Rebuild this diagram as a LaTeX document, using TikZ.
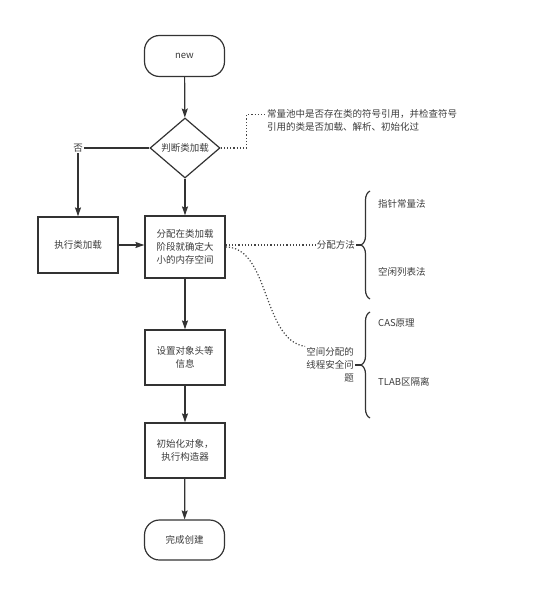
\documentclass[tikz,border=0pt]{standalone}
\usepackage{fontspec}
\newfontfamily\cjk{Noto Sans CJK SC}
\usetikzlibrary{shapes.geometric,arrows.meta,decorations.pathreplacing}

\definecolor{linegray}{HTML}{333333}
\definecolor{textgray}{HTML}{3C3C3C}
\definecolor{notegray}{HTML}{444444}

\tikzset{
  line/.style={draw=linegray, line width=1.2pt},
  flow/.style={line, -{Stealth[length=9pt,width=6pt,inset=1.5pt]}},
  note/.style={draw=notegray, dotted, line width=1.2pt},
  label/.style={text=textgray, inner sep=1pt, font=\cjk\fontsize{9.5}{13}\selectfont},
  box/.style={label, draw=linegray, line width=1.2pt, fill=white, minimum width=80pt, align=center, inner sep=3pt},
  term/.style={box, rounded corners=15pt, minimum height=41pt},
  proc/.style={box, minimum height=56pt},
  judge/.style={box, diamond, aspect=1.17, minimum width=70pt, minimum height=60pt, inner sep=0pt},
  curly/.style={line, decorate, decoration={brace, amplitude=9pt}}
}

\begin{document}
\begin{tikzpicture}[x=1pt,y=-1pt]
\useasboundingbox (0,0) rectangle (554,609);

\node[term] (new) at (184.5,56) {new};
\node[judge] (check) at (185,148) {判断类加载};
\node[label] (no) at (78,148) {否};
\node[proc] (load) at (78,245) {执行类加载};
\node[proc, minimum height=62pt] (alloc) at (185,247) {分配在类加载\\阶段就确定大\\小的内存空间};
\node[proc, minimum height=55pt] (header) at (185,357.5) {设置对象头等\\信息};
\node[proc, minimum height=55pt] (init) at (185,450.5) {初始化对象，\\执行构造器};
\node[term, minimum height=40pt] (done) at (184.5,540) {完成创建};

\node[label, anchor=west, align=left] (rule) at (266,120) {常量池中是否存在类的符号引用，并检查符号\\引用的类是否加载、解析、初始化过};

\node[label, anchor=east] (method) at (356,245) {分配方法};
\node[label, anchor=west] (bump) at (377,204) {指针常量法};
\node[label, anchor=west] (freelist) at (377,272) {空闲列表法};

\node[label, anchor=east, align=right] (tsafe) at (355,365) {空间分配的\\线程安全问\\题};
\node[label, anchor=west] (cas) at (377,323) {CAS原理};
\node[label, anchor=west] (tlab) at (377,382) {TLAB区隔离};

\coordinate (tip1) at (361,245);
\coordinate (tip2) at (361,365);

\draw[flow] (new) -- (check);
\draw[flow] (check) -- (alloc);
\draw[line] (check.west) -- (check.west -| no.east);
\draw[flow] (no.south) -- (load.north);
\draw[flow] (load) -- (alloc.west |- load);
\draw[flow] (alloc) -- (header);
\draw[flow] (header) -- (init);
\draw[flow] (init) -- (done);

\draw[note] (check.east) -- ++(26,0) |- ([yshift=-7pt]rule.north west);
\draw[note] (alloc.east |- method) -- (method.west);
\draw[note] (alloc.east) .. controls (270,247) and (262,340) .. (tsafe.north west);

\draw[curly] (370,299) -- (370,191);
\draw[curly] (370,418) -- (370,312);
\draw[line] (method.east) -- (tip1);
\draw[line] (tsafe.east) -- (tip2);

\end{tikzpicture}
\end{document}
